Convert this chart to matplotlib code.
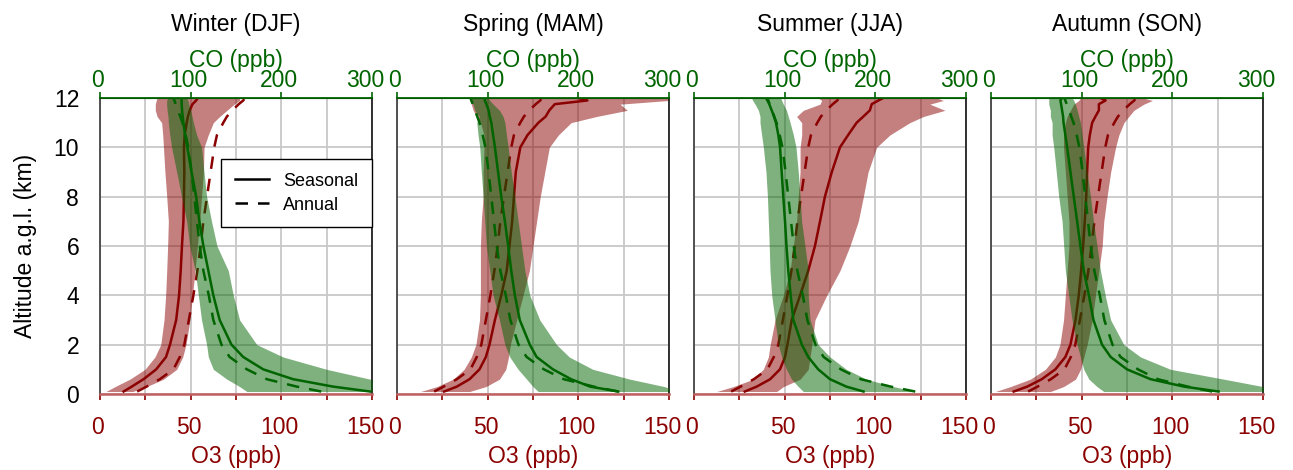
import matplotlib
matplotlib.use('Agg')
import matplotlib.pyplot as plt
import matplotlib.transforms as mtransforms
from matplotlib.lines import Line2D

plt.rcParams['font.family'] = ['Liberation Sans', 'DejaVu Sans']

# altitude levels (km a.g.l.)
alt = [0.1, 0.3, 0.6, 1, 1.5, 2, 3, 4, 5, 6, 7, 8, 9, 10, 10.5, 11, 11.25, 11.5, 11.75, 11.9, 12]

seasons = ['Winter (DJF)', 'Spring (MAM)', 'Summer (JJA)', 'Autumn (SON)']

# annual mean profiles (same in every panel)
o3_annual = [20.5, 25.7, 33, 40.5, 44, 46.5, 49, 51.5, 53.7, 55.5, 57, 59, 61, 63, 64.5, 68, 70, 73, 76.5, 79, 80]
co_annual = [244, 217, 184, 162, 143, 134, 125, 120, 114, 110, 107, 104, 101, 97.5, 94.5, 91, 88.5, 86, 83.5, 82, 81]

# seasonal O3 (ppb): mean, low, high
o3_djf = [13, 17.5, 24, 31, 36.4, 38.6, 42, 43.6, 44.5, 45.2, 46, 46.3, 46.5, 46.3, 46.7, 47.8, 48.5, 49.5, 51, 53, 54]
o3_djf_lo = [3.3, 8.3, 16.5, 24.8, 30.3, 33.5, 35.3, 36.2, 36.8, 37.3, 37.7, 36.8, 35.8, 35, 34.6, 34, 31.5, 30.5, 30.5, 31, 31.5]
o3_djf_hi = [18, 25.7, 35, 42.3, 45.6, 47.4, 49.6, 51, 52.4, 53.7, 55, 56, 57, 57.4, 59.7, 62.5, 66, 70, 74, 77, 77]

o3_mam = [26, 33, 40, 45.5, 49, 51, 54, 57.5, 60.5, 62, 63.5, 64.5, 65.5, 68, 72, 78, 82, 84, 87, 105, 100]
o3_mam_lo = [13, 22, 31, 37, 41, 43.5, 45.5, 46, 46, 46, 46.5, 47.5, 47.5, 48, 48, 46, 44, 42, 41, 41, 41]
o3_mam_hi = [40, 49, 56.5, 60, 61.5, 62.5, 66, 69.5, 73, 75, 77, 79, 81.5, 84, 89, 96, 110, 127, 123, 150, 150]

o3_jja = [28, 34.6, 42, 47.4, 50.2, 51.5, 53.9, 58.5, 63, 66.7, 69.5, 72.2, 76, 80.5, 85, 89.7, 93.4, 97, 98, 101.7, 104.4]
o3_jja_lo = [12.5, 21.7, 32.7, 38.2, 41, 42, 44.7, 49.3, 53, 54.8, 56.6, 57.5, 58.5, 58.5, 59.4, 59.4, 56.6, 60.3, 69.5, 70.4, 68.6]
o3_jja_hi = [45.6, 49.3, 58.5, 63, 64, 65, 66.7, 73.2, 80.5, 86, 90.6, 93.4, 96, 100.7, 108, 119, 126.5, 138.4, 130, 137.5, 134]

o3_son = [12.5, 20, 28, 35.5, 41, 43.8, 46.6, 48.4, 49.7, 50.8, 51.7, 52.5, 53, 53.6, 54.5, 55.8, 57.6, 59.5, 59.5, 63.2, 60.4]
o3_son_lo = [2.4, 10.7, 21.7, 30, 35.5, 38, 40, 41, 42, 43, 43, 42, 41, 40, 40, 41, 42, 43.8, 45.7, 48.4, 49.4]
o3_son_hi = [32.8, 40, 46.6, 49.4, 51.2, 53, 55.8, 57.6, 59.5, 61.3, 62.2, 64, 66, 68.7, 70.5, 73.3, 76, 78.8, 84.3, 89, 84]

# seasonal CO (ppb): mean, low, high
co_djf = [298, 257, 213, 180, 158, 145, 132, 125, 119.5, 114, 109.6, 106, 101, 96.3, 93.8, 92, 91.2, 90.5, 90, 90, 90]
co_djf_lo = [162, 154, 140, 125, 119.5, 117.6, 112, 108.5, 105, 99, 95.6, 90, 84.6, 79, 77, 75.4, 75, 74, 73.5, 73.5, 75]
co_djf_hi = [340, 320, 298, 250, 202, 173, 154, 147, 141.5, 129, 123, 117.6, 114.7, 112, 106.6, 103, 101.5, 100, 98, 97, 95.6]

co_mam = [244, 213, 192, 172, 154, 146.5, 135.4, 130, 126, 122.6, 119, 115, 111.5, 108, 106, 104, 102.3, 101, 98.6, 96.8, 96.8]
co_mam_lo = [155.7, 150, 143, 133.6, 124.4, 119, 113, 106, 102.3, 98.6, 96.8, 95, 93, 91.3, 89.4, 88, 91, 85.8, 84, 80, 80]
co_mam_hi = [310, 295, 257, 216, 190, 176, 157.5, 146.5, 141, 137.3, 133.6, 130, 126, 122.6, 120.7, 119, 117, 113, 106, 102.3, 100.5]

co_jja = [187, 168, 150, 137, 126, 119, 109.6, 106.6, 104, 102, 100.4, 98.5, 96.7, 94.9, 93, 90.4, 88.2, 85.7, 83, 81, 79.4]
co_jja_lo = [120.6, 115, 107.7, 102, 96.7, 93, 89.3, 85.7, 83.8, 83, 82, 81, 79.4, 76.5, 74.6, 72.8, 72.8, 71, 67.3, 64.7, 63.6]
co_jja_hi = [245, 220, 190, 168, 150, 137, 128, 126, 126, 122.4, 118.7, 117, 115, 112.5, 109.6, 106, 104, 102, 98.5, 96.7, 95.6]

co_son = [251, 213, 176, 150, 132, 122.5, 113, 108, 102.3, 98.6, 95, 91.3, 87.6, 84, 82, 80, 79.5, 78.4, 77.3, 76.5, 78.4]
co_son_lo = [124.4, 117, 108, 102.3, 98.6, 95, 89.4, 85.7, 82, 80.2, 78.4, 74.7, 72, 69.2, 67.4, 67.4, 65.5, 65.5, 63.7, 63.7, 63.7]
co_son_hi = [320, 300, 257, 198, 165, 146.5, 132, 126, 120.7, 117, 113, 109.7, 106, 102.3, 100.5, 98.6, 96.8, 95, 93, 91.3, 89.4]

o3_mean = [o3_djf, o3_mam, o3_jja, o3_son]
o3_lo = [o3_djf_lo, o3_mam_lo, o3_jja_lo, o3_son_lo]
o3_hi = [o3_djf_hi, o3_mam_hi, o3_jja_hi, o3_son_hi]
co_mean = [co_djf, co_mam, co_jja, co_son]
co_lo = [co_djf_lo, co_mam_lo, co_jja_lo, co_son_lo]
co_hi = [co_djf_hi, co_mam_hi, co_jja_hi, co_son_hi]

red = '#8b0000'
green = '#006400'
fs = 16.5
dash = (0, (5, 4))

fig = plt.figure(figsize=(12.93, 4.70), dpi=100)


def nudge_labels(labels):
    # labels sit a little left of their ticks, the last one more so
    n = len(labels)
    for k, lab in enumerate(labels):
        dx = -5 / 72 if k == n - 1 else -1.5 / 72
        off = mtransforms.ScaledTranslation(dx, 0, fig.dpi_scale_trans)
        lab.set_transform(lab.get_transform() + off)


W, H = 1293, 470
lefts = [100, 397, 694, 991]
for i in range(4):
    ax = fig.add_axes([lefts[i] / W, 1 - 394 / H, 272 / W, 296 / H])
    ax.set_xlim(0, 150)
    ax.set_ylim(0, 12)
    ax.set_xticks([0, 25, 50, 75, 100, 125, 150])
    ax.set_xticklabels(['0', '', '50', '', '100', '', '150'])
    ax.set_yticks([0, 2, 4, 6, 8, 10, 12])
    ax.grid(True, color='#c8c8c8', lw=1.3, zorder=0)
    ax.set_axisbelow(True)

    # ozone on the bottom axis
    ax.fill_betweenx(alt, o3_lo[i], o3_hi[i], color=red, alpha=0.5, lw=0, zorder=2)
    ax.plot(o3_mean[i], alt, color=red, lw=1.8, zorder=3)
    ax.plot(o3_annual, alt, color=red, lw=1.8, ls=dash, zorder=3)

    ax.tick_params(axis='x', colors=red, labelsize=fs, length=4, width=1.2, pad=12)
    ax.tick_params(axis='y', length=0, labelsize=fs, pad=15)
    for k, tk in enumerate(ax.xaxis.get_major_ticks()):
        if k % 2 == 1:
            tk.tick1line.set_visible(False)
    nudge_labels(ax.get_xticklabels())
    ax.set_xlabel('O3 (ppb)', color=red, fontsize=fs, labelpad=4)
    if i == 0:
        ax.set_ylabel('Altitude a.g.l. (km)', fontsize=fs, labelpad=12)
    else:
        ax.set_yticklabels([])

    ax.spines['bottom'].set_color('#c06060')
    ax.spines['bottom'].set_linewidth(1.8)
    ax.spines['left'].set_color('#444444')
    ax.spines['right'].set_color('#222222')
    ax.spines['left'].set_linewidth(1.3)
    ax.spines['right'].set_linewidth(1.3)

    # CO on the top axis
    ax2 = ax.twiny()
    ax2.set_xlim(0, 300)
    ax2.set_xticks([0, 100, 200, 300])
    ax2.fill_betweenx(alt, co_lo[i], co_hi[i], color=green, alpha=0.5, lw=0, zorder=2)
    ax2.plot(co_mean[i], alt, color=green, lw=1.8, zorder=3)
    ax2.plot(co_annual, alt, color=green, lw=1.8, ls=dash, zorder=3)
    ax2.tick_params(axis='x', colors=green, labelsize=fs, length=4, width=1.2, pad=0)
    nudge_labels(ax2.get_xticklabels())
    ax2.set_xlabel('CO (ppb)', color=green, fontsize=fs, labelpad=2)
    ax2.spines['top'].set_color(green)
    ax2.spines['top'].set_linewidth(1.3)
    for s in ['left', 'right', 'bottom']:
        ax2.spines[s].set_visible(False)
    ax2.set_title(seasons[i], fontsize=fs, pad=13)

    if i == 0:
        handles = [Line2D([], [], color='black', lw=1.8),
                   Line2D([], [], color='black', lw=1.8, ls=dash)]
        leg = ax2.legend(handles, ['Seasonal', 'Annual'], loc='upper right',
                         bbox_to_anchor=(1.0, 0.794), borderaxespad=0,
                         fontsize=13, frameon=True, fancybox=False,
                         edgecolor='black', framealpha=1, borderpad=0.75,
                         handlelength=1.9, handletextpad=0.8, labelspacing=0.4)
        leg.get_frame().set_linewidth(1.0)
        leg.set_zorder(10)

fig.savefig('out.png', dpi=100)
